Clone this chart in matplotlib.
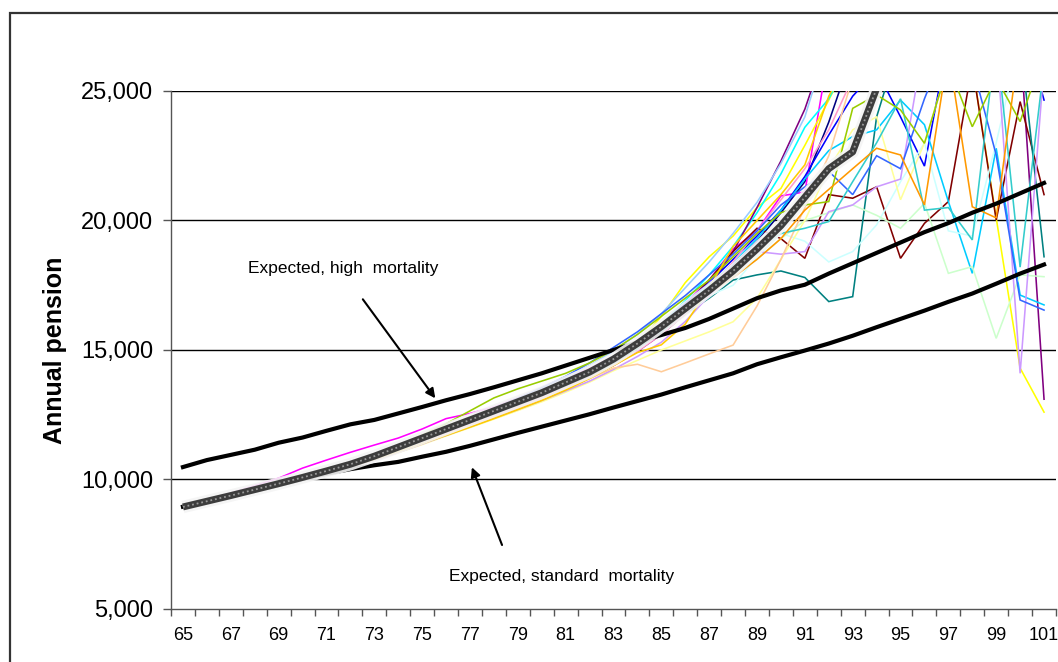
import matplotlib
matplotlib.use("Agg")
import matplotlib.pyplot as plt
from matplotlib.patches import Rectangle

plt.rcParams['font.family'] = ['Liberation Sans', 'DejaVu Sans']

ages = list(range(65, 102))
odd_labels = [str(a) for a in ages if a % 2 == 1]

# Average path (thick grey)
average = [8940, 9160, 9380, 9610, 9840, 10080, 10330, 10590, 10900, 11250,
           11600, 11950, 12300, 12650, 13000, 13350, 13750, 14150, 14650, 15250,
           15900, 16600, 17300, 18050, 18900, 19800, 20900, 22000, 22650, 25100,
           27500, 29000, 30500, 32000, 33000, 34000, 35000]

expected_high = [10480, 10750, 10950, 11150, 11420, 11620, 11880, 12130, 12300, 12550,
                 12800, 13060, 13300, 13560, 13830, 14100, 14400, 14700, 15000, 15300,
                 15580, 15850, 16200, 16600, 17000, 17300, 17520, 17950, 18350, 18750,
                 19150, 19550, 19900, 20300, 20650, 21050, 21450]

expected_std = [8950, 9150, 9350, 9560, 9780, 10020, 10220, 10400, 10550, 10680,
                10880, 11070, 11300, 11550, 11800, 12040, 12280, 12520, 12780, 13030,
                13280, 13560, 13830, 14100, 14450, 14720, 14980, 15250, 15550, 15880,
                16200, 16520, 16860, 17180, 17560, 17950, 18300]

navy = [8950, 9170, 9400, 9620, 9850, 10090, 10340, 10600, 10910, 11260,
        11620, 11960, 12320, 12660, 13020, 13380, 13760, 14180, 14700, 15280,
        15950, 16700, 17500, 18300, 19200, 20300, 21500, 23800, 26500, 28500,
        30000, 31500, 33000, 34000, 35000, 36000, 37000]
magenta = [8960, 9220, 9480, 9760, 10050, 10440, 10750, 11050, 11330, 11600,
           11950, 12350, 12550, 12800, 13150, 13500, 13900, 14300, 14750, 15300,
           16000, 16800, 17700, 18900, 19600, 20950, 21100, 26500, 28500, 30000,
           31500, 33000, 34000, 35000, 36000, 37000, 38000]
yellow = [8940, 9150, 9370, 9590, 9820, 10060, 10300, 10560, 10870, 11210,
          11560, 11900, 12250, 12600, 12950, 13300, 13700, 14100, 14600, 15200,
          16300, 17600, 18600, 19400, 20500, 21240, 22900, 24650, 26500, 28000,
          29000, 30000, 28500, 26000, 20100, 14300, 12600]
cyan = [8940, 9150, 9370, 9590, 9820, 10050, 10290, 10540, 10830, 11150,
        11480, 11820, 12150, 12500, 12850, 13200, 13600, 14050, 14600, 15200,
        16000, 16900, 17900, 19000, 20300, 21800, 23600, 24700, 26500, 28000,
        29500, 31000, 32000, 33000, 34000, 35000, 36000]
purple = [8940, 9150, 9370, 9590, 9810, 10040, 10280, 10530, 10810, 11120,
          11440, 11770, 12100, 12440, 12780, 13150, 13550, 13950, 14400, 14950,
          15600, 16400, 17400, 18800, 20500, 22300, 24300, 27000, 28500, 30000,
          31000, 32000, 33000, 34000, 35000, 27000, 13100]
dark_red = [8930, 9140, 9350, 9570, 9790, 10020, 10260, 10510, 10800, 11130,
            11460, 11800, 12150, 12500, 12860, 13230, 13630, 14050, 14550, 15100,
            15800, 16700, 17700, 18800, 19700, 19300, 18540, 21000, 20860, 21300,
            18540, 19890, 20730, 26000, 20020, 24590, 21000]
teal = [8930, 9130, 9330, 9550, 9770, 10000, 10240, 10490, 10780, 11110,
        11450, 11790, 12140, 12490, 12850, 13210, 13600, 14000, 14500, 15050,
        15700, 16400, 17000, 17700, 17900, 18050, 17800, 16870, 17060, 24000,
        27000, 29000, 27500, 30000, 28000, 27000, 18600]
blue = [8950, 9160, 9380, 9600, 9830, 10070, 10320, 10580, 10890, 11240,
        11600, 11950, 12300, 12660, 13020, 13390, 13790, 14200, 14700, 15300,
        16000, 16800, 17600, 18500, 19400, 20400, 21700, 23300, 24800, 25800,
        24000, 22100, 27000, 28000, 29000, 28000, 24650]
sky_blue = [8940, 9150, 9370, 9600, 9830, 10070, 10310, 10570, 10870, 11210,
            11560, 11920, 12270, 12630, 12990, 13360, 13760, 14180, 14680, 15250,
            15950, 16700, 17500, 18350, 19300, 20400, 21600, 22700, 23240, 23500,
            24650, 23700, 20730, 17960, 22790, 17120, 16740]
light_turquoise = [8940, 9150, 9360, 9580, 9800, 10030, 10270, 10520, 10810, 11140,
                   11480, 11820, 12170, 12520, 12880, 13240, 13640, 14060, 14550, 15120,
                   15780, 16500, 17100, 17500, 18600, 19500, 19200, 18400, 18800, 19830,
                   21500, 23000, 19600, 19400, 23000, 27000, 28000]
light_green = [8940, 9150, 9370, 9590, 9810, 10040, 10280, 10530, 10820, 11150,
               11490, 11830, 12180, 12530, 12890, 13250, 13650, 14070, 14560, 15120,
               15780, 16500, 17200, 17900, 18500, 19300, 20000, 20300, 20600, 20200,
               19700, 20660, 17960, 18220, 15450, 17900, 17830]
light_yellow = [8930, 9130, 9340, 9560, 9780, 10000, 10230, 10470, 10740, 11040,
                11350, 11680, 12000, 12330, 12660, 13000, 13370, 13760, 14200, 14600,
                15000, 15350, 15700, 16090, 17000, 18500, 20000, 22000, 23500, 24000,
                20800, 23000, 26000, 27000, 28000, 29000, 29000]
pale_blue = [8950, 9170, 9390, 9620, 9850, 10090, 10340, 10600, 10910, 11260,
             11620, 11990, 12360, 12730, 13110, 13500, 13920, 14400, 14950, 15600,
             16400, 17400, 18400, 19500, 20700, 22200, 24000, 27000, 28500, 30000,
             31000, 32000, 33000, 34000, 35000, 36000, 37000]
rose = [8930, 9140, 9350, 9570, 9790, 10020, 10260, 10510, 10790, 11110,
        11440, 11780, 12120, 12460, 12810, 13170, 13550, 13950, 14400, 14950,
        15600, 16400, 17300, 18400, 19600, 20800, 22000, 23500, 25500, 27500,
        29000, 30000, 31000, 32000, 33000, 34000, 35000]
lavender = [8930, 9130, 9340, 9550, 9770, 10000, 10230, 10470, 10740, 11050,
            11370, 11700, 12030, 12370, 12700, 13050, 13420, 13800, 14250, 14750,
            15300, 16100, 17100, 18000, 18800, 18700, 18800, 20340, 20600, 21300,
            21600, 27000, 28000, 29000, 27000, 14100, 26000]
tan = [8930, 9140, 9350, 9570, 9790, 10020, 10250, 10490, 10770, 11080,
       11400, 11730, 12070, 12410, 12760, 13120, 13500, 13900, 14300, 14450,
       14160, 14500, 14850, 15190, 16700, 18500, 20500, 22500, 25500, 27500,
       29000, 30000, 31000, 32000, 33000, 34000, 35000]
light_blue = [8950, 9170, 9390, 9620, 9850, 10090, 10340, 10600, 10910, 11260,
              11620, 11990, 12370, 12750, 13140, 13540, 13980, 14500, 15100, 15700,
              16400, 17100, 17900, 18700, 19600, 20600, 21300, 21900, 21000, 22500,
              22000, 24700, 27000, 26000, 22530, 16930, 16540]
aqua = [8940, 9150, 9360, 9580, 9800, 10030, 10270, 10520, 10810, 11140,
        11490, 11850, 12200, 12560, 12920, 13290, 13690, 14110, 14600, 15150,
        15800, 16500, 17300, 18100, 18900, 19500, 19700, 19960, 21500, 23000,
        24700, 20400, 20500, 19250, 27000, 18200, 26000]
lime = [8960, 9190, 9420, 9650, 9880, 10120, 10370, 10640, 10960, 11330,
        11720, 12150, 12650, 13150, 13500, 13800, 14100, 14500, 15000, 15600,
        16300, 17000, 17700, 18600, 19500, 20300, 20600, 20730, 24330, 24850,
        24270, 22980, 26000, 23620, 25500, 23820, 26500]
gold = [8930, 9140, 9350, 9570, 9790, 10020, 10260, 10500, 10770, 11080,
        11390, 11700, 12020, 12350, 12700, 13050, 13450, 13900, 14400, 14900,
        15200, 16000, 17400, 19000, 20000, 21000, 22150, 24800, 26500, 28000,
        29000, 30000, 31000, 32000, 33000, 34000, 35000]
light_orange = [8950, 9170, 9400, 9630, 9870, 10110, 10370, 10640, 10950, 11300,
                11660, 12010, 12370, 12720, 13080, 13440, 13830, 14240, 14730, 15300,
                15950, 16600, 17200, 17800, 18500, 19300, 20400, 21200, 22000, 22790,
                22530, 20600, 26500, 20530, 20100, 27000, 28000]

series = [navy, magenta, yellow, cyan, purple, dark_red, teal, blue, sky_blue,
          light_turquoise, light_green, light_yellow, pale_blue, rose, lavender,
          tan, light_blue, aqua, lime, gold, light_orange]
colors = ['#000080', '#FF00FF', '#FFFF00', '#00FFFF', '#800080', '#800000',
          '#008080', '#0000FF', '#00CCFF', '#CCFFFF', '#CCFFCC', '#FFFF99',
          '#99CCFF', '#FF99CC', '#CC99FF', '#FFCC99', '#3366FF', '#33CCCC',
          '#99CC00', '#FFCC00', '#FF9900']

W, H = 1058, 662
fig = plt.figure(figsize=(W / 100, H / 100), dpi=100)
fig.patch.set_facecolor('white')

# outer chart-area border (cropped on the right and bottom)
fig.add_artist(Rectangle((10 / W, -0.2), 2.0, (1 - 12.7 / H) + 0.2,
                         transform=fig.transFigure, fill=False,
                         edgecolor='#333333', linewidth=1.6))

ax = fig.add_axes([171 / W, 1 - 609 / H, (1056 - 171) / W, (609 - 91) / H])

for vals, c in zip(series, colors):
    ax.plot(ages, vals, color=c, linewidth=1.15, zorder=2, solid_joinstyle='miter')

ax.plot(ages, expected_high, color='black', linewidth=3.0, zorder=3)
ax.plot(ages, expected_std, color='black', linewidth=3.0, zorder=3)

ax.plot(ages, average, color='#f4f4f4', linewidth=9, alpha=0.9, zorder=4,
        solid_capstyle='butt')
ax.plot(ages, average, color='#3d3d3d', linewidth=5, zorder=5,
        solid_capstyle='butt')
ax.plot(ages, average, color='#9a9a9a', linewidth=1.3, zorder=6,
        linestyle=(0, (1, 1.6)))

ax.set_xlim(64.5, 101.5)
ax.set_ylim(5000, 25000)

yt = [5000, 10000, 15000, 20000, 25000]
ax.set_yticks(yt)
ax.set_yticklabels([f"{v:,}" for v in yt], fontsize=17)
for v in yt[1:]:
    ax.axhline(v, color='black', linewidth=1.0, zorder=1)

ax.set_xticks([a - 0.5 for a in ages] + [101.5])
ax.set_xticklabels([])
ax.set_xticks([a for a in ages if a % 2 == 1], minor=True)
ax.set_xticklabels(odd_labels, minor=True, fontsize=13)
ax.tick_params(axis='x', which='major', length=5, width=1, color='#555555', direction='out')
ax.tick_params(axis='x', which='minor', length=0, pad=13)
ax.tick_params(axis='y', length=6, width=1, color='#555555', pad=7)

for s in ['top', 'right']:
    ax.spines[s].set_visible(False)
for s in ['left', 'bottom']:
    ax.spines[s].set_color('#555555')
    ax.spines[s].set_linewidth(1.0)

ax.set_ylabel('Annual pension', fontsize=18, fontweight='bold', labelpad=10)

ax.text(67.72, 18166, 'Expected, high  mortality', fontsize=12.5,
        ha='left', va='center', zorder=7)
ax.annotate('', xy=(75.55, 13135), xytext=(72.52, 16958),
            arrowprops=dict(arrowstyle='-|>', color='black', lw=1.5,
                            mutation_scale=14, shrinkA=0, shrinkB=0), zorder=7)
ax.text(76.13, 6236, 'Expected, standard  mortality', fontsize=12.5,
        ha='left', va='center', zorder=7)
ax.annotate('', xy=(77.08, 10471), xytext=(78.34, 7471),
            arrowprops=dict(arrowstyle='-|>', color='black', lw=1.5,
                            mutation_scale=14, shrinkA=0, shrinkB=0), zorder=7)

fig.savefig('out.png', dpi=100, facecolor='white')
